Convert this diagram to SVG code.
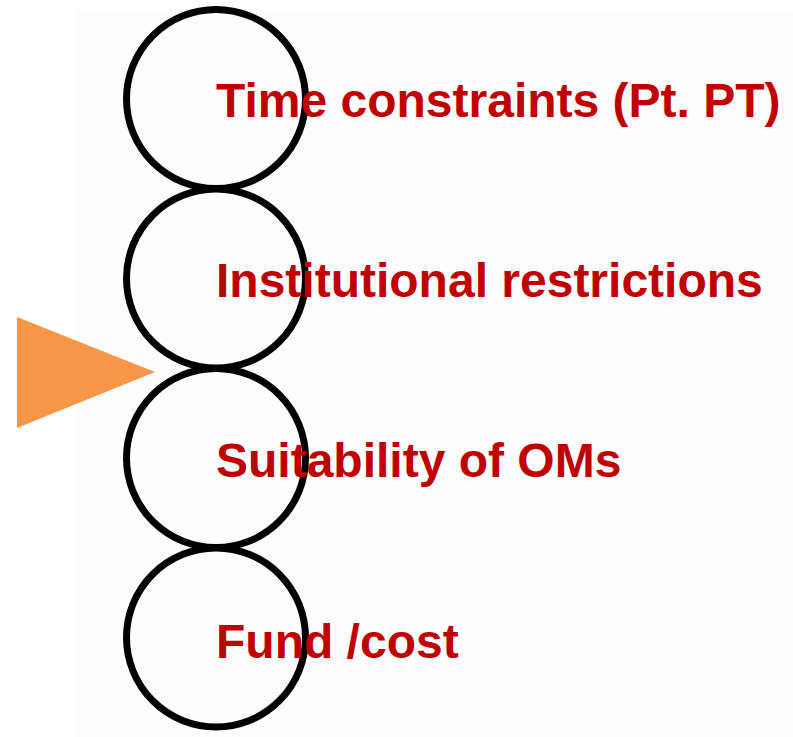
<svg xmlns="http://www.w3.org/2000/svg" width="793" height="737" viewBox="0 0 793 737">
  <style>
    .ring { fill: none; stroke: #000000; stroke-width: 7; }
    .label { font-family: "Liberation Sans", Arial, sans-serif; font-weight: bold; font-size: 48px; fill: #C00000; }
  </style>
  <rect x="0" y="0" width="793" height="737" fill="#ffffff"/>
  <rect x="77" y="10" width="716" height="727" fill="#fdfdfd"/>

  <!-- pointer marking the current item -->
  <g id="pointer">
    <polygon points="17,317 155,372 17,428" fill="#F79646"/>
  </g>

  <g id="connectors"></g>

  <g id="time-constraints">
    <circle class="ring" cx="216" cy="99" r="89.5"/>
    <text class="label" x="216" y="117">Time constraints (Pt. PT)</text>
  </g>
  <g id="institutional-restrictions">
    <circle class="ring" cx="216" cy="278.5" r="89.5"/>
    <text class="label" x="216" y="297">Institutional restrictions</text>
  </g>
  <g id="suitability">
    <circle class="ring" cx="216" cy="458" r="89.5"/>
    <text class="label" x="216" y="477">Suitability of OMs</text>
  </g>
  <g id="fund-cost">
    <circle class="ring" cx="216" cy="637.5" r="89.5"/>
    <text class="label" x="216" y="658">Fund /cost</text>
  </g>
</svg>
